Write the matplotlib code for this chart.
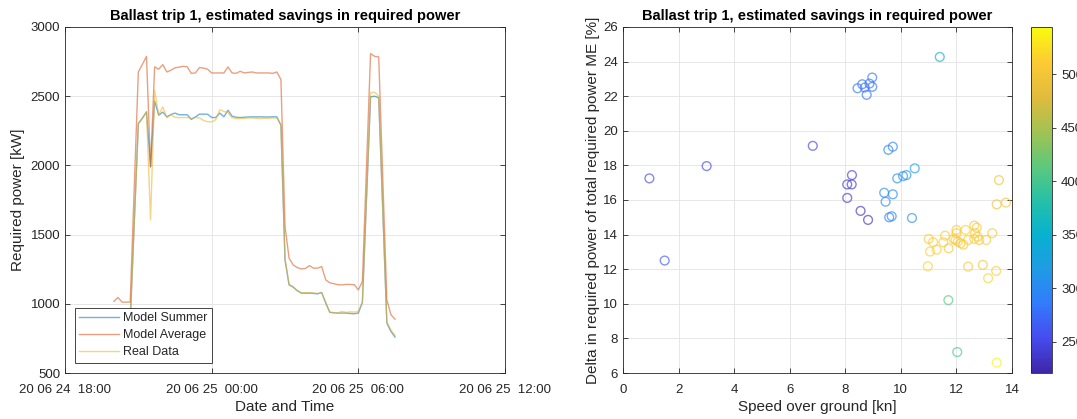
import numpy as np
import pandas as pd
import matplotlib
matplotlib.use("Agg")
import matplotlib.pyplot as plt
import matplotlib.dates as mdates
from matplotlib.colors import LinearSegmentedColormap, Normalize
from matplotlib.cm import ScalarMappable

plt.rcParams['font.family'] = ['Liberation Sans', 'DejaVu Sans']

# ---------------- data: left panel (time series) ----------------
times = [
    "2020-06-24 20:00", "2020-06-24 20:10", "2020-06-24 20:20", "2020-06-24 20:30", "2020-06-24 20:40",
    "2020-06-24 21:00", "2020-06-24 21:10", "2020-06-24 21:20", "2020-06-24 21:30", "2020-06-24 21:40",
    "2020-06-24 21:50", "2020-06-24 22:00", "2020-06-24 22:10", "2020-06-24 22:20", "2020-06-24 22:30",
    "2020-06-24 22:40", "2020-06-24 22:50", "2020-06-24 23:00", "2020-06-24 23:10", "2020-06-24 23:20",
    "2020-06-24 23:30", "2020-06-24 23:40", "2020-06-24 23:50", "2020-06-25 00:00", "2020-06-25 00:10",
    "2020-06-25 00:20", "2020-06-25 00:30", "2020-06-25 00:40", "2020-06-25 00:50", "2020-06-25 01:00",
    "2020-06-25 01:10", "2020-06-25 01:20", "2020-06-25 01:30", "2020-06-25 01:40", "2020-06-25 01:50",
    "2020-06-25 02:00", "2020-06-25 02:10", "2020-06-25 02:20", "2020-06-25 02:30", "2020-06-25 02:40",
    "2020-06-25 02:50", "2020-06-25 03:00", "2020-06-25 03:10", "2020-06-25 03:20", "2020-06-25 03:30",
    "2020-06-25 03:40", "2020-06-25 03:50", "2020-06-25 04:00", "2020-06-25 04:10", "2020-06-25 04:20",
    "2020-06-25 04:30", "2020-06-25 04:40", "2020-06-25 04:50", "2020-06-25 05:00", "2020-06-25 05:10",
    "2020-06-25 05:20", "2020-06-25 05:30", "2020-06-25 05:40", "2020-06-25 05:50", "2020-06-25 06:00",
    "2020-06-25 06:10", "2020-06-25 06:30", "2020-06-25 06:40", "2020-06-25 06:50", "2020-06-25 07:10",
    "2020-06-25 07:20", "2020-06-25 07:30",
]

model_summer = [
    875, 890, 870, 868, 868,
    2303, 2340, 2387, 1990, 2465,
    2363, 2385, 2351, 2368, 2378,
    2366, 2366, 2366, 2332, 2350,
    2370, 2370, 2370, 2346, 2346,
    2378, 2351, 2399, 2356, 2348,
    2346, 2348, 2350, 2351, 2350,
    2351, 2350, 2350, 2351, 2351,
    2291, 1317, 1137, 1120, 1095,
    1077, 1077, 1077, 1075, 1072,
    1082, 1005, 938, 935, 933,
    933, 933, 930, 928, 933,
    1010, 2495, 2500, 2488, 861,
    800, 760,
]

model_average = [
    1017, 1046, 1012, 1012, 1012,
    2675, 2730, 2788, 1990, 2712,
    2695, 2728, 2675, 2688, 2705,
    2710, 2716, 2712, 2665, 2668,
    2707, 2703, 2695, 2668, 2668,
    2668, 2668, 2712, 2668, 2665,
    2680, 2668, 2672, 2675, 2668,
    2668, 2668, 2668, 2665, 2675,
    2620, 1560, 1330, 1281, 1262,
    1252, 1255, 1276, 1257, 1258,
    1269, 1173, 1152, 1145, 1138,
    1137, 1140, 1140, 1138, 1101,
    1161, 2808, 2788, 2784, 1029,
    921, 889,
]

real_data = [
    880, 895, 872, 870, 872,
    2300, 2345, 2387, 1606, 2543,
    2363, 2423, 2345, 2365, 2348,
    2345, 2346, 2346, 2340, 2346,
    2343, 2325, 2315, 2315, 2330,
    2402, 2390, 2380, 2345, 2338,
    2339, 2340, 2343, 2343, 2340,
    2339, 2340, 2340, 2343, 2343,
    2290, 1330, 1140, 1125, 1095,
    1080, 1080, 1080, 1078, 1075,
    1080, 1010, 940, 936, 935,
    945, 938, 942, 940, 945,
    1015, 2524, 2529, 2500, 870,
    810, 773,
]

series_labels = ["Model Summer", "Model Average", "Real Data"]

# ---------------- data: right panel (scatter) ----------------
speed = [0.95, 1.50, 3.01, 6.83,
         8.44, 8.61, 8.70, 8.77, 8.87, 8.97, 8.97,
         11.40,
         9.55, 9.71, 10.50, 9.87, 10.08, 10.20,
         9.40, 9.71, 9.45, 9.58, 9.67, 10.40,
         8.24, 8.07, 8.23, 8.07, 8.55, 8.82,
         13.53, 13.45, 13.78, 11.00, 11.16, 11.05, 11.29, 10.97, 11.59, 11.53,
         11.72, 11.90, 12.00, 12.00, 11.97, 12.05, 12.15, 12.25, 12.33, 12.42,
         12.64, 12.73, 12.67, 12.64, 12.76, 12.82, 13.07, 13.29, 12.42, 12.95,
         13.14, 13.43,
         11.71, 12.03, 13.45]
delta_pct = [17.25, 12.50, 17.96, 19.13,
             22.46, 22.69, 22.50, 22.08, 22.73, 22.54, 23.08,
             24.27,
             18.90, 19.08, 17.83, 17.25, 17.38, 17.44,
             16.42, 16.33, 15.90, 15.00, 15.06, 14.96,
             17.44, 16.90, 16.90, 16.12, 15.37, 14.85,
             17.15, 15.75, 15.85, 13.75, 13.56, 13.02, 13.13, 12.17, 13.94, 13.56,
             13.21, 13.75, 14.27, 14.08, 13.69, 13.60, 13.50, 13.42, 14.27, 13.69,
             14.52, 14.40, 14.08, 13.75, 13.88, 13.69, 13.69, 14.08, 12.15, 12.25,
             11.48, 11.90,
             10.21, 7.21, 6.60]
color_value = [252, 262, 248, 250,
               280, 278, 282, 278, 280, 279, 282,
               338,
               292, 294, 325, 302, 305, 308,
               298, 300, 296, 292, 294, 304,
               242, 238, 240, 237, 232, 230,
               495, 497, 500, 510, 512, 515, 512, 515, 512, 510,
               505, 512, 510, 505, 508, 510, 505, 508, 515, 512,
               508, 505, 510, 512, 505, 510, 512, 508, 505, 502,
               515, 510,
               412, 402, 540]
cbar_ticks = [250, 300, 350, 400, 450, 500]

# ---------------- style ----------------
parula = LinearSegmentedColormap.from_list("parula", [
    (0.00, (0.2422, 0.1504, 0.6603)),
    (0.10, (0.2760, 0.2960, 0.9360)),
    (0.20, (0.1960, 0.4840, 0.9900)),
    (0.30, (0.1220, 0.6100, 0.8950)),
    (0.40, (0.0300, 0.6960, 0.8100)),
    (0.50, (0.1500, 0.7550, 0.6550)),
    (0.60, (0.3700, 0.7880, 0.4800)),
    (0.70, (0.6400, 0.7600, 0.3200)),
    (0.80, (0.8800, 0.7350, 0.2350)),
    (0.90, (0.9930, 0.7950, 0.2050)),
    (1.00, (0.9763, 0.9831, 0.0538)),
])
axcol = (0.15, 0.15, 0.15)
gridcol = (0.89, 0.89, 0.89)
line_colors = [(0.0, 0.447, 0.741), (0.85, 0.325, 0.098), (0.929, 0.694, 0.125)]

fig = plt.figure(figsize=(10.77, 4.19), dpi=100)
W, H = 1077, 419
ax1 = fig.add_axes([65 / W, 46 / H, 440 / W, 346 / H])
ax2 = fig.add_axes([623 / W, 46 / H, 389 / W, 346 / H])
cax = fig.add_axes([1031 / W, 46 / H, 21 / W, 346 / H])


def style_axes(ax):
    for sp in ax.spines.values():
        sp.set_color(axcol)
        sp.set_linewidth(0.6)
    ax.tick_params(direction='in', length=3.5, width=0.6, colors=axcol,
                   labelsize=9.5, top=True, right=True, labelcolor=axcol)
    ax.tick_params(axis='x', pad=8)
    ax.grid(True, color=gridcol, linewidth=0.6)
    ax.set_axisbelow(True)


# left panel
t = pd.to_datetime(times)
for vals, lab, col in zip([model_summer, model_average, real_data], series_labels, line_colors):
    ax1.plot(t, vals, color=col, alpha=0.55, linewidth=1.0, label=lab)
ax1.set_xlim(pd.Timestamp("2020-06-24 18:00"), pd.Timestamp("2020-06-25 12:00"))
ax1.set_ylim(500, 3000)
ax1.set_yticks([500, 1000, 1500, 2000, 2500, 3000])
ax1.xaxis.set_major_locator(mdates.HourLocator(byhour=[0, 6, 12, 18]))
ax1.xaxis.set_major_formatter(mdates.DateFormatter('%y %m %d  %H:%M'))
style_axes(ax1)
ax1.set_title("Ballast trip 1, estimated savings in required power",
              fontsize=10.5, fontweight='bold', pad=5)
ax1.set_xlabel("Date and Time", fontsize=11, color=axcol, labelpad=3)
ax1.set_ylabel("Required power [kW]", fontsize=11, color=axcol)
leg = ax1.legend(loc='lower left', bbox_to_anchor=(0.022, 0.03), fontsize=9,
                 frameon=True, fancybox=False, framealpha=1.0, edgecolor=axcol,
                 handlelength=3.2, handletextpad=0.35, labelspacing=0.4,
                 borderpad=0.35, borderaxespad=0.0)
leg.get_frame().set_linewidth(0.6)
for txt in leg.get_texts():
    txt.set_color(axcol)

# right panel
norm = Normalize(vmin=221, vmax=544)
edge = parula(norm(np.array(color_value)))
edge[:, 3] = 0.65
ax2.scatter(speed, delta_pct, s=40, facecolors='none', edgecolors=edge, linewidths=1.0)
ax2.set_xlim(0, 14)
ax2.set_ylim(6, 26)
ax2.set_xticks(np.arange(0, 15, 2))
ax2.set_yticks(np.arange(6, 27, 2))
style_axes(ax2)
ax2.set_title("Ballast trip 1, estimated savings in required power",
              fontsize=10.5, fontweight='bold', pad=5)
ax2.set_xlabel("Speed over ground [kn]", fontsize=11, color=axcol, labelpad=3)
ax2.set_ylabel("Delta in required power of total required power ME [%]", fontsize=11,
               color=axcol, labelpad=2)

cb = fig.colorbar(ScalarMappable(norm=norm, cmap=parula), cax=cax, ticks=cbar_ticks)
cb.outline.set_edgecolor(axcol)
cb.outline.set_linewidth(0.6)
cax.tick_params(direction='out', length=3, width=0.6, colors=axcol, labelsize=9.5)

fig.savefig("out.png", dpi=100)
